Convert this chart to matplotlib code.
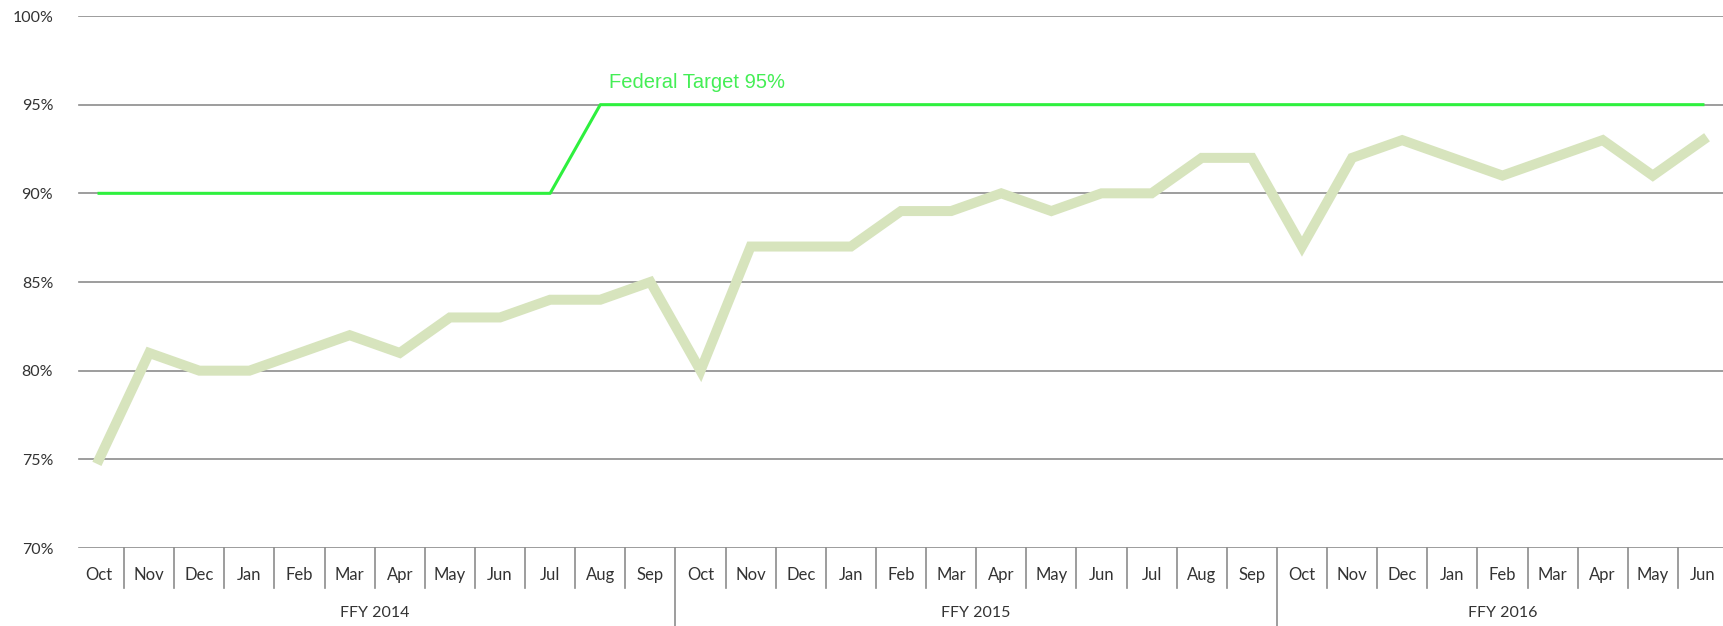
import matplotlib
matplotlib.use('Agg')
import matplotlib.pyplot as plt
import matplotlib.transforms as mtransforms
import numpy as np

# data
months = ['Oct', 'Nov', 'Dec', 'Jan', 'Feb', 'Mar', 'Apr', 'May', 'Jun', 'Jul', 'Aug', 'Sep',
          'Oct', 'Nov', 'Dec', 'Jan', 'Feb', 'Mar', 'Apr', 'May', 'Jun', 'Jul', 'Aug', 'Sep',
          'Oct', 'Nov', 'Dec', 'Jan', 'Feb', 'Mar', 'Apr', 'May', 'Jun']
years = ['FFY 2014', 'FFY 2015', 'FFY 2016']
year_sizes = [12, 12, 9]
rate = [75, 81, 80, 80, 81, 82, 81, 83, 83, 84, 84, 85,
        80, 87, 87, 87, 89, 89, 90, 89, 90, 90, 92, 92,
        87, 92, 93, 92, 91, 92, 93, 91, 93]
target = [90, 90, 90, 90, 90, 90, 90, 90, 90, 90, 95, 95,
          95, 95, 95, 95, 95, 95, 95, 95, 95, 95, 95, 95,
          95, 95, 95, 95, 95, 95, 95, 95, 95]
yticks = [70, 75, 80, 85, 90, 95, 100]
target_label = 'Federal Target 95%'

plt.rcParams['font.family'] = ['Lato', 'DejaVu Sans']

fig = plt.figure(figsize=(17.24, 6.26), dpi=100)
# plot area runs slightly past the right edge of the picture
ax = fig.add_axes([74/1724, 78/626, 1654/1724, 532/626])

x = np.arange(len(months))
grid_c = '#8c8c8c'

# gridlines (start a few px in from the category edge)
for yv in yticks:
    ax.axhline(yv, xmin=0.003, color=grid_c, lw=1.2, zorder=1)

ax.plot(x, rate, color='#d7e4bd', lw=7.2, zorder=3, solid_joinstyle='miter')
ax.plot(x, target, color='#2ef03e', lw=2.2, zorder=4)

ax.annotate(target_label, xy=(x[10], target[10]), xytext=(6, 16),
            textcoords='offset points', ha='left', va='center',
            color='#44ee55', fontsize=14.5, family=['Liberation Sans'])

ax.set_xlim(-0.5, len(months) - 0.5)
ax.set_ylim(70, 100)
ax.set_yticks(yticks)
ax.set_yticklabels([f'{v}%' for v in yticks], fontsize=11.5, color='#333333')
ax.tick_params(axis='y', length=0, pad=15)

ax.set_xticks(x)
ax.set_xticklabels(months, fontsize=12, color='#333333')
ax.tick_params(axis='x', length=0, pad=14)

for s in ax.spines.values():
    s.set_visible(False)

# multi-level category axis separators
trans = mtransforms.blended_transform_factory(ax.transData, ax.transAxes)
bounds = np.cumsum(year_sizes)
start = 0
for i in range(1, len(months)):
    ylow = -0.147 if i in bounds else -0.075
    ax.plot([i - 0.5, i - 0.5], [0, ylow], color=grid_c, lw=1.2,
            transform=trans, clip_on=False)
for name, n in zip(years, year_sizes):
    ax.text(start + (n - 1) / 2, -0.122, name, transform=trans,
            ha='center', va='center', fontsize=11.5, color='#333333')
    start += n

fig.savefig('out.png', dpi=100)
